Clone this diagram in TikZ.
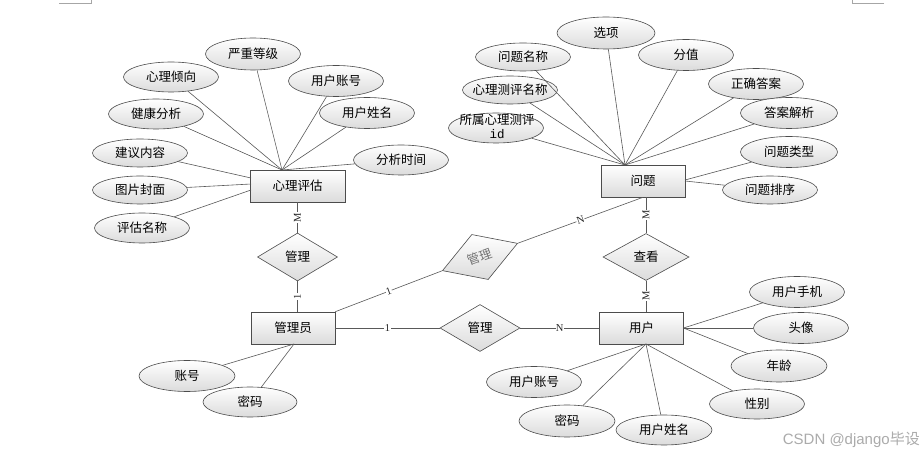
\documentclass[tikz,border=0pt]{standalone}
\usepackage{fontspec}
\setmainfont{Noto Sans CJK SC}
\newfontfamily\cardfont{Liberation Serif}
\newfontfamily\idfont{Liberation Mono}
\newfontfamily\wmfont{Liberation Sans}
\usetikzlibrary{shapes.geometric}
\newcommand\zb[1]{\makebox[0pt]{#1}}
\tikzset{
  base/.style={draw=black!70, line width=0.6pt, top color=white, bottom color=black!14, inner sep=0pt, font=\fontsize{12.5}{14}\selectfont},
  attr/.style={base, ellipse, minimum width=95pt, minimum height=30pt},
  ent/.style={base, rectangle, minimum width=84pt, minimum height=32pt},
  rel/.style={base, diamond, minimum width=80pt, minimum height=48pt},
  conn/.style={draw=black!65, line width=0.6pt},
  card/.style={font=\cardfont\fontsize{10.5}{10.5}\selectfont, fill=white, inner sep=0.4pt, text=black!85},
  cornermark/.style={draw=black!35, line width=0.8pt}
}
\begin{document}
\begin{tikzpicture}[x=1pt,y=-1pt]
\fill[white] (0,0) rectangle (922,454);
\useasboundingbox (0,0) rectangle (922,454);
% page corner marks
\coordinate (cl1) at (59,3); \coordinate (cl2) at (91,3); \coordinate (cl3) at (91,0);
\coordinate (cr1) at (884,3); \coordinate (cr2) at (852,3); \coordinate (cr3) at (852,0);
\draw[cornermark] (cl1) -- (cl2) -- (cl3);
\draw[cornermark] (cr1) -- (cr2) -- (cr3);

% entities
\node[ent, minimum width=95pt] (xlpg) at (297.5,186) {心理评估};
\node[ent] (gly) at (293,328) {管理员};
\node[ent] (wt) at (643,181) {问题};
\node[ent] (yh) at (641.5,328) {用户};

% relations
\node[rel] (gl1) at (297.5,257) {管理};
\node[rel, rotate=20, text=black!55] (gl2) at (480,257) {管理};
\node[rel, minimum width=86pt, minimum height=47pt] (ck) at (646,257) {查看};
\node[rel, minimum height=47pt] (gl3) at (480,328) {管理};

% relation connectors
\draw[conn] (xlpg.south) -- node[card, rotate=90] {M} (gl1.north);
\draw[conn] (gl1.south) -- node[card, rotate=90] {1} (gly.north -| gl1.south);
\draw[conn] (gly.north east) -- node[card, rotate=20] {1} (gl2.west);
\draw[conn] (gl2.east) -- node[card, rotate=20] {N} (wt.south);
\draw[conn] (ck.north |- wt.south) -- node[card, rotate=90] {M} (ck.north);
\draw[conn] (ck.south) -- node[card, rotate=90] {M} (ck.south |- yh.north);
\draw[conn] (gly.east) -- node[card] {1} (gl3.west);
\draw[conn] (gl3.east) -- node[card] {N} (yh.west);

% attributes of 心理评估
\node[attr, minimum height=32pt] (yzdj) at (253,54) {\zb{严重等级}};
\node[attr] (xlqx) at (171,77) {\zb{心理倾向}};
\node[attr, minimum height=31pt] (yhzh1) at (336,81) {\zb{用户账号}};
\node[attr] (jkfx) at (156,114) {\zb{健康分析}};
\node[attr, minimum height=31pt] (yhxm1) at (367,113) {\zb{用户姓名}};
\node[attr, minimum height=28pt] (jynr) at (140,153) {\zb{建议内容}};
\node[attr] (fxsj) at (401,160) {\zb{分析时间}};
\node[attr, minimum height=28pt] (tpfm) at (140,190) {\zb{图片封面}};
\node[attr] (pgmc) at (142,228) {\zb{评估名称}};
\coordinate (p1) at (282,170);
\coordinate (q1) at (251,178);
\coordinate (q2) at (251,184);
\coordinate (q3) at (251,190);
\foreach \a in {yzdj,xlqx,yhzh1,jkfx,yhxm1,fxsj} \draw[conn] (\a) -- (p1);
\draw[conn] (jynr) -- (q1);
\draw[conn] (tpfm) -- (q2);
\draw[conn] (pgmc) -- (q3);

% attributes of 问题
\node[attr, minimum width=98pt, minimum height=32pt] (xx) at (606,33) {\zb{选项}};
\node[attr, minimum height=28pt] (wtmc) at (523,57) {\zb{问题名称}};
\node[attr, minimum height=31pt] (fz) at (686,55) {\zb{分值}};
\node[attr, minimum height=28pt] (xlcp) at (510,90) {\zb{心理测评名称}};
\node[attr, minimum height=31pt] (zqda) at (756,84) {\zb{正确答案}};
\node[attr] (ssid) at (496,128) {};
\node[font=\fontsize{12.5}{15}\selectfont, align=center, inner sep=0pt] (ssidt) at (497,126) {所属心理测评\\[-1pt]{\idfont id}};
\node[attr, minimum width=97pt, minimum height=31pt] (dajx) at (789,113) {\zb{答案解析}};
\node[attr, minimum width=97pt, minimum height=31pt] (wtlx) at (789,152) {\zb{问题类型}};
\node[attr, minimum height=28pt] (wtpx) at (770,190) {\zb{问题排序}};
\coordinate (p2) at (625,165);
\coordinate (q4) at (685,180);
\coordinate (q5) at (685,181);
\foreach \a in {xx,wtmc,fz,xlcp,zqda,ssid,dajx} \draw[conn] (\a) -- (p2);
\draw[conn] (wtlx) -- (q4);
\draw[conn] (wtpx) -- (q5);

% attributes of 用户
\node[attr, minimum height=31pt] (sj) at (797,292) {\zb{用户手机}};
\node[attr, minimum height=31pt] (tx) at (801,328) {\zb{头像}};
\node[attr, minimum width=96pt, minimum height=32pt] (nl) at (779,366) {\zb{年龄}};
\node[attr] (xb) at (757,404) {\zb{性别}};
\node[attr, minimum height=31pt] (yhzh2) at (534,382) {\zb{用户账号}};
\node[attr, minimum width=96pt, minimum height=32pt] (mm2) at (567,421) {\zb{密码}};
\node[attr, minimum width=96pt] (yhxm2) at (664,430) {\zb{用户姓名}};
\coordinate (p3) at (646,344);
\coordinate (q6) at (683.5,328);
\foreach \a in {yhzh2,mm2,yhxm2,xb} \draw[conn] (\a) -- (p3);
\foreach \a in {sj,tx,nl} \draw[conn] (\a) -- (q6);

% attributes of 管理员
\node[attr, minimum width=96pt, minimum height=31pt] (zh) at (187,376) {\zb{账号}};
\node[attr, minimum width=94pt] (mm1) at (250,402) {\zb{密码}};
\coordinate (p4) at (294,344);
\draw[conn] (zh) -- (p4);
\draw[conn] (mm1) -- (p4);

% watermark
\node[font=\fontsize{15}{15}\selectfont, text=black!33, anchor=east, inner sep=0pt] (wm) at (920,440) {{\wmfont CSDN @django}毕设};
\end{tikzpicture}
\end{document}
